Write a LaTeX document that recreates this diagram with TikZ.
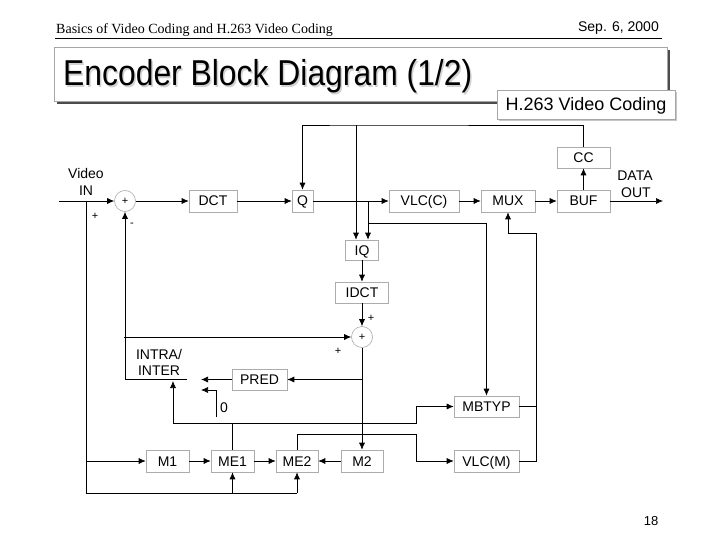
\documentclass[tikz,border=0pt]{standalone}
\usepackage{fontspec}
\setmainfont{Liberation Serif}
\setsansfont{Liberation Sans}
\usetikzlibrary{arrows.meta,calc}
\tikzset{
  blk/.style={draw=gray!65, fill=white, line width=0.6pt, inner sep=0pt, minimum height=22pt,
              text height=10pt, text depth=0pt,
              font=\sffamily\fontsize{14}{16}\selectfont},
  sumc/.style={circle, draw=gray!65, fill=white, line width=0.6pt, minimum size=21pt, inner sep=0pt,
              font=\sffamily\fontsize{11}{12}\selectfont},
  lbl/.style={font=\sffamily\fontsize{14}{16}\selectfont, inner sep=0pt},
  sml/.style={font=\sffamily\fontsize{11}{12}\selectfont, inner sep=0pt},
  wire/.style={line width=0.7pt, black},
  arr/.style={wire, -{Latex[length=7pt,width=6pt]}},
}
\begin{document}
\begin{tikzpicture}[x=1pt,y=-1pt]
\useasboundingbox (0,0) rectangle (720,540);
\fill[white] (0,0) rectangle (720,540);
% header
\node[anchor=base west, inner sep=0pt, font=\rmfamily\fontsize{14}{16}\selectfont] (hdr) at (56,34) {Basics of Video Coding and H.263 Video Coding};
\node[anchor=base east, inner sep=0pt, font=\sffamily\fontsize{14}{16}\selectfont] (date) at (659,32) {Sep. 6, 2000};
\draw[line width=0.8pt] (55,38.5) -- (662,38.5);
% title box
\fill[gray!60!black] (57,50) rectangle (670,104);
\draw[draw=gray!70, fill=white, line width=0.8pt] (54,47) rectangle (667,101);
\node[anchor=base west, inner sep=0pt, text=gray!35, font=\sffamily\fontsize{36}{40}\selectfont] at (64.5,87.5) {\scalebox{0.885}[1]{Encoder Block Diagram (1/2)}};
\node[anchor=base west, inner sep=0pt, font=\sffamily\fontsize{36}{40}\selectfont] (title) at (63,86) {\scalebox{0.885}[1]{Encoder Block Diagram (1/2)}};
\fill[gray!45] (499,92) rectangle (677,121);
\node[draw=gray!70, fill=white, line width=0.6pt, minimum width=178pt, minimum height=29pt, inner sep=0pt,
      text height=13pt, text depth=0pt,
      font=\sffamily\fontsize{18}{20}\selectfont] (sub) at (586,104.5) {H.263 Video Coding};
% page number
\node[sml, font=\sffamily\fontsize{13}{14}\selectfont] (pg) at (651,521) {18};

% blocks
\node[sumc] (sum1) at (125,201) {+};
\node[blk, minimum width=48pt] (dct) at (213,201) {DCT};
\node[blk, minimum width=21pt] (q) at (302.5,201) {Q};
\node[blk, minimum width=70pt] (vlcc) at (424,201) {VLC(C)};
\node[blk, minimum width=54pt] (mux) at (508,201) {MUX};
\node[blk, minimum width=53pt] (buf) at (583.5,201) {BUF};
\node[blk, minimum width=53pt, minimum height=21pt] (cc) at (583.5,157.5) {CC};
\node[blk, minimum width=33pt, minimum height=20pt] (iq) at (362,250) {IQ};
\node[blk, minimum width=53pt, minimum height=21pt] (idct) at (362,292.5) {IDCT};
\node[sumc] (sum2) at (362,337) {+};
\node[blk, minimum width=55pt, minimum height=21pt] (pred) at (259.5,379.5) {PRED};
\node[blk, minimum width=65pt, minimum height=21pt] (mbtyp) at (486.5,406.5) {MBTYP};
\node[blk, minimum width=65pt] (vlcm) at (486.5,461) {VLC(M)};
\node[blk, minimum width=43pt] (m1) at (167.5,461) {M1};
\node[blk, minimum width=43pt] (me1) at (232.5,461) {ME1};
\node[blk, minimum width=42pt] (me2) at (297,461) {ME2};
\node[blk, minimum width=42pt] (m2) at (362,461) {M2};

% labels
\node[lbl] (lvideo) at (86,173) {Video};
\node[lbl] (lin) at (86,191) {IN};
\node[lbl] (ldata) at (635,176) {DATA};
\node[lbl] (lout) at (636,193) {OUT};
\node[lbl] (lintra) at (159,354) {INTRA/};
\node[lbl] (linter) at (159,371) {INTER};
\node[lbl] (lzero) at (224,408) {0};
\node[sml] (p1) at (95,216) {+};
\node[sml] (m1s) at (132,225) {-};
\node[sml] (p2) at (371,318) {+};
\node[sml] (p3) at (338,351) {+};

% coordinates
\coordinate (vin) at (59,201);
\coordinate (dout) at (663,201);
\coordinate (tj) at (356,125);
\coordinate (qj) at (368,201);
\coordinate (mj) at (368,223);
\coordinate (swa) at (201,379.5);
\coordinate (swb) at (201,390);
\coordinate (zin) at (216,417);
\coordinate (swo) at (187,379.5);
\coordinate (fb) at (124,337);
\coordinate (mvj) at (232.5,423);
\coordinate (mvl) at (173,381);
\coordinate (mvr) at (416,423);
\coordinate (mej) at (416,434);
\coordinate (rj) at (536,406.5);
\coordinate (rt) at (536,233);
\coordinate (inj) at (86,201);
\coordinate (inb) at (86,493);
\coordinate (inm) at (86,461);
\coordinate (bj1) at (232.5,493);
\coordinate (bj2) at (297,493);
\coordinate (pj) at (362,379.5);

% forward path
\draw[arr] (vin) -- (sum1);
\draw[arr] (sum1) -- (dct);
\draw[arr] (dct) -- (q);
\draw[arr] (q) -- (vlcc);
\draw[arr] (vlcc) -- (mux);
\draw[arr] (mux) -- (buf);
\draw[arr] (buf) -- (dout);
\draw[arr] (buf) -- (cc);
\draw[arr] (cc.north) |- (tj) -| (q.north);
\draw[arr] (tj) -- (tj |- iq.north);
\draw[arr] (qj) -- (qj |- iq.north);
\draw[arr] (mj) -| (mbtyp.north);
% reconstruction
\draw[arr] (iq) -- (idct);
\draw[arr] (idct) -- (sum2);
\draw[arr] (sum2) -- (m2);
\draw[arr] (pj) -- (pred.east);
\draw[arr] (pred.west) -- (swa);
\draw[arr] (zin) |- (swb);
\draw[arr] (swo) -| (sum1.south);
\draw[arr] (fb) -- (sum2.west);
% motion
\draw[wire] (inj) -- (inb) -- (bj2);
\draw[arr] (inm) -- (m1);
\draw[arr] (bj1) -- (me1.south);
\draw[arr] (bj2) -- (me2.south);
\draw[arr] (m1) -- (me1);
\draw[arr] (me1) -- (me2);
\draw[arr] (m2) -- (me2);
\draw[arr] (me1.north) -- (mvj) -| (mvl);
\draw[arr] (mvj) -- (mvr) |- (mbtyp.west);
\draw[arr] (me2.north) |- (mej) |- (vlcm.west);
\draw[wire] (mbtyp.east) -- (rj);
\draw[arr] (vlcm.east) -| (rt) -| (mux.south);
\end{tikzpicture}
\end{document}
